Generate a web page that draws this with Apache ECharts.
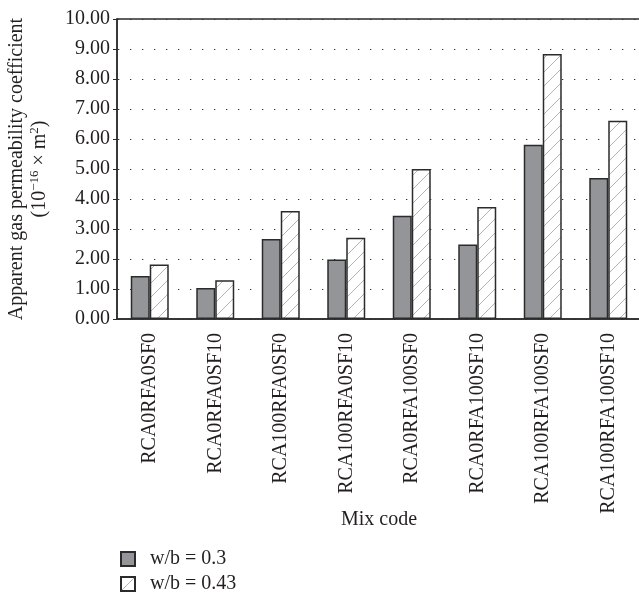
<!DOCTYPE html>
<html>
<head>
<meta charset="utf-8">
<script src="https://cdn.jsdelivr.net/npm/echarts@6/dist/echarts.min.js"></script>
<style>
  html, body { margin: 0; padding: 0; background: #fff; }
  #chart { width: 639px; height: 601px; }
</style>
</head>
<body>
<div id="chart"></div>
<script>
// Mix codes along the x axis
const categories = [
  'RCA0RFA0SF0', 'RCA0RFA0SF10', 'RCA100RFA0SF0', 'RCA100RFA0SF10',
  'RCA0RFA100SF0', 'RCA0RFA100SF10', 'RCA100RFA100SF0', 'RCA100RFA100SF10'
];
// Apparent gas permeability (10^-16 m^2)
const wb030 = [1.43, 1.03, 2.67, 1.98, 3.44, 2.48, 5.81, 4.70];
const wb043 = [1.82, 1.29, 3.60, 2.71, 5.00, 3.73, 8.83, 6.61];
const seriesNames = ['w/b = 0.3', 'w/b = 0.43'];
const yTicks = [0, 1, 2, 3, 4, 5, 6, 7, 8, 9, 10];

const FONT = '"Liberation Serif", "DejaVu Serif", serif';
const INK = '#231f20';

// Diagonal hatch fill for the w/b = 0.43 bars
function hatchPattern() {
  const s = 14;
  const c = document.createElement('canvas');
  c.width = s; c.height = s;
  const g = c.getContext('2d');
  g.fillStyle = '#ffffff';
  g.fillRect(0, 0, s, s);
  g.strokeStyle = '#b4b4b4';
  g.lineWidth = 1;
  g.beginPath();
  g.moveTo(-1, s + 1); g.lineTo(s + 1, -1);
  g.moveTo(-1, 1); g.lineTo(1, -1);
  g.moveTo(s - 1, s + 1); g.lineTo(s + 1, s - 1);
  g.stroke();
  return c;
}

const chart = echarts.init(document.getElementById('chart'), null, { renderer: 'canvas' });

chart.setOption({
  animation: false,
  backgroundColor: '#ffffff',
  textStyle: { fontFamily: FONT, color: INK },
  grid: {
    left: 117, top: 19, width: 524, height: 300,
    outerBoundsMode: 'none',
    containLabel: false,
    show: true, borderColor: '#2b2b2b', borderWidth: 1.5, backgroundColor: 'transparent'
  },
  legend: {
    orient: 'vertical',
    left: 120, top: 549,
    padding: 0,
    itemWidth: 14, itemHeight: 14, itemGap: 5,
    icon: 'rect',
    textStyle: { fontFamily: FONT, fontSize: 20, color: INK, padding: [0, 0, 0, 10], lineHeight: 20 },
    data: seriesNames
  },
  xAxis: {
    type: 'category',
    data: categories,
    name: 'Mix code',
    nameLocation: 'middle',
    nameGap: 191,
    nameMoveOverlap: false,
    nameTextStyle: { fontFamily: FONT, fontSize: 20, color: INK },
    axisLine: { lineStyle: { color: '#2b2b2b', width: 1.5 } },
    axisTick: { alignWithLabel: true, length: 4, lineStyle: { color: '#2b2b2b' } },
    axisLabel: { rotate: 90, margin: 14, fontFamily: FONT, fontSize: 20, color: INK },
    splitLine: { show: false }
  },
  yAxis: {
    type: 'value',
    min: yTicks[0], max: yTicks[yTicks.length - 1], interval: 1,
    name: '{a|Apparent gas permeability coefficient}\n{a|(10}{s|−16}{a| × m}{s|2}{a|)}',
    nameLocation: 'middle',
    nameRotate: 90,
    nameGap: 66,
    nameMoveOverlap: false,
    nameTextStyle: {
      fontFamily: FONT, fontSize: 20, color: INK, lineHeight: 23,
      rich: {
        a: { fontFamily: FONT, fontSize: 20, color: INK, lineHeight: 23 },
        s: { fontFamily: FONT, fontSize: 13, color: INK, lineHeight: 23, verticalAlign: 'top' }
      }
    },
    axisLine: { show: true, lineStyle: { color: '#2b2b2b', width: 1.5 } },
    axisTick: { show: true, length: 4, lineStyle: { color: '#2b2b2b' } },
    axisLabel: {
      margin: 7, fontFamily: FONT, fontSize: 20, color: INK,
      formatter: v => v.toFixed(2)
    },
    splitLine: {
      show: true,
      lineStyle: { color: '#333', width: 1.2, type: [1.3, 10.7], dashOffset: 11 }
    }
  },
  series: [
    {
      name: seriesNames[0],
      type: 'bar',
      data: wb030,
      barGap: '0%',
      barCategoryGap: '42%',
      itemStyle: { color: '#939598', borderColor: '#2b2b2b', borderWidth: 1.5 }
    },
    {
      name: seriesNames[1],
      type: 'bar',
      data: wb043,
      barGap: '0%',
      barCategoryGap: '42%',
      itemStyle: {
        color: { image: hatchPattern(), repeat: 'repeat' },
        borderColor: '#2b2b2b', borderWidth: 1.5
      }
    }
  ]
});
</script>
</body>
</html>
